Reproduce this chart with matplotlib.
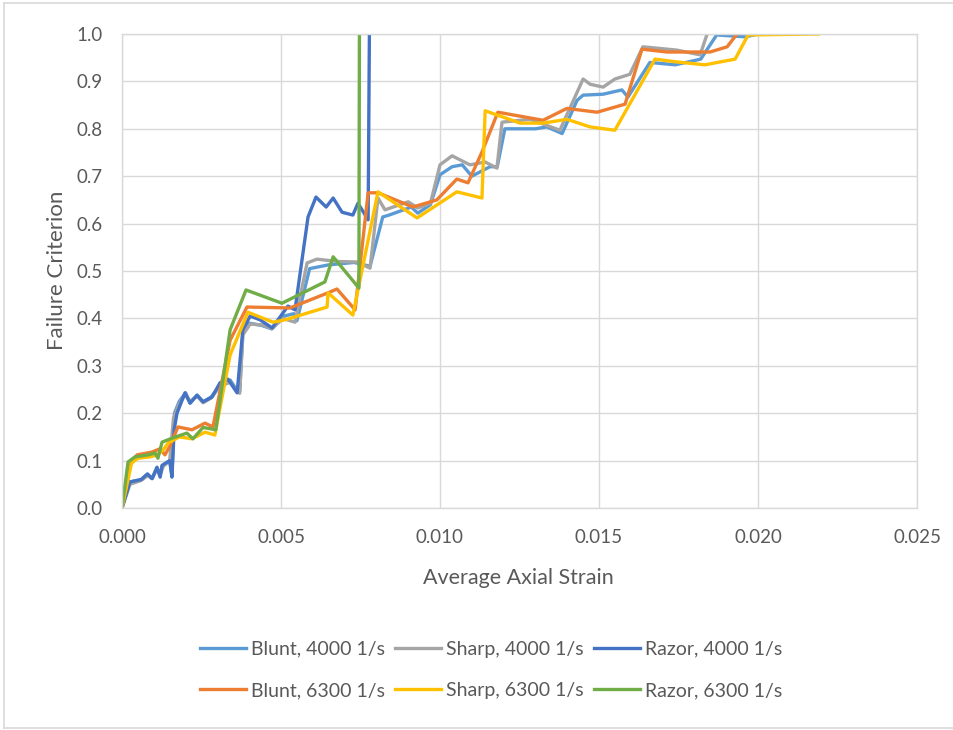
import matplotlib.pyplot as plt
from matplotlib.lines import Line2D
import numpy as np

plt.rcParams['font.family'] = ['Lato', 'DejaVu Sans']

# Blunt, 4000 1/s
blunt4_x = [0, 0.00025, 0.00063, 0.00079, 0.00094, 0.0011, 0.0012, 0.00126, 0.0015, 0.00157, 0.00165,
            0.0018, 0.002, 0.00214, 0.00236, 0.00255, 0.0028, 0.0031, 0.0034, 0.0036, 0.0037, 0.0038,
            0.004, 0.0044, 0.0047, 0.0051, 0.0054, 0.0055, 0.0059, 0.0065, 0.0073, 0.0078, 0.0082,
            0.0084, 0.0091, 0.0093, 0.0097, 0.0100, 0.01038, 0.0107, 0.0110, 0.01157, 0.0118, 0.01204,
            0.0130, 0.01336, 0.01384, 0.01431, 0.0145, 0.01513, 0.01572, 0.01591, 0.0166, 0.0174,
            0.0182, 0.0187, 0.0196, 0.0200]
blunt4_y = [0, 0.055, 0.06, 0.07, 0.062, 0.085, 0.068, 0.088, 0.10, 0.07, 0.2,
            0.225, 0.243, 0.222, 0.238, 0.224, 0.234, 0.26, 0.27, 0.25, 0.245, 0.37,
            0.39, 0.385, 0.378, 0.405, 0.41, 0.395, 0.505, 0.513, 0.518, 0.51, 0.614,
            0.618, 0.635, 0.622, 0.64, 0.703, 0.72, 0.724, 0.70, 0.72, 0.72, 0.80,
            0.80, 0.804, 0.79, 0.86, 0.871, 0.873, 0.882, 0.867, 0.94, 0.935,
            0.947, 0.998, 0.994, 1.0]

# Sharp, 4000 1/s
sharp4_x = [0, 0.00025, 0.0006, 0.0008, 0.00095, 0.0011, 0.0012, 0.0013, 0.0015, 0.00162, 0.0018,
            0.002, 0.00214, 0.00236, 0.00255, 0.0028, 0.0031, 0.0034, 0.0036, 0.0037, 0.0038, 0.00403,
            0.00443, 0.00472, 0.00506, 0.00544, 0.00582, 0.00613, 0.0068, 0.00739, 0.0078, 0.00805,
            0.00827, 0.009, 0.0093, 0.0097, 0.0100, 0.01038, 0.01094, 0.01142, 0.01179, 0.01195,
            0.01283, 0.01377, 0.0145, 0.01472, 0.01513, 0.0155, 0.01597, 0.01638, 0.01745, 0.01818,
            0.0184, 0.0186]
sharp4_y = [0, 0.05, 0.058, 0.068, 0.063, 0.082, 0.07, 0.088, 0.10, 0.19, 0.22,
            0.24, 0.225, 0.236, 0.222, 0.232, 0.258, 0.265, 0.248, 0.242, 0.365, 0.388,
            0.386, 0.378, 0.40, 0.392, 0.517, 0.525, 0.52, 0.519, 0.506, 0.654,
            0.629, 0.646, 0.633, 0.643, 0.724, 0.743, 0.724, 0.73, 0.717, 0.814,
            0.82, 0.797, 0.905, 0.894, 0.888, 0.905, 0.915, 0.973, 0.966, 0.956,
            1.0, 1.03]

# Razor, 4000 1/s
razor4_x = [0, 0.00025, 0.0006, 0.0008, 0.00095, 0.0011, 0.0012, 0.00126, 0.0015, 0.00157, 0.00164,
            0.00173, 0.00198, 0.00214, 0.00236, 0.00255, 0.00283, 0.00308, 0.00333, 0.00362, 0.0038,
            0.00403, 0.00434, 0.00472, 0.00522, 0.00544, 0.00585, 0.0061, 0.00642, 0.00664, 0.00692,
            0.00726, 0.00742, 0.00774, 0.00783]
razor4_y = [0, 0.055, 0.06, 0.072, 0.062, 0.086, 0.065, 0.09, 0.10, 0.065, 0.165,
            0.2, 0.243, 0.221, 0.238, 0.224, 0.234, 0.264, 0.272, 0.243, 0.376,
            0.405, 0.397, 0.38, 0.426, 0.418, 0.614, 0.656, 0.635, 0.654, 0.624,
            0.618, 0.643, 0.608, 1.5]

# Blunt, 6300 1/s
blunt6_x = [0, 0.00025, 0.00047, 0.00094, 0.0012, 0.00135, 0.0015, 0.00176, 0.0022, 0.00261, 0.00286,
            0.0034, 0.00393, 0.00528, 0.00648, 0.00676, 0.00733, 0.00774, 0.00805, 0.00915, 0.0099,
            0.01053, 0.01088, 0.01132, 0.01182, 0.01324, 0.01399, 0.01494, 0.01582, 0.01635, 0.01714,
            0.01849, 0.01903, 0.01934]
blunt6_y = [0, 0.09, 0.112, 0.118, 0.125, 0.112, 0.13, 0.171, 0.165, 0.179, 0.171,
            0.354, 0.424, 0.422, 0.454, 0.462, 0.418, 0.665, 0.665, 0.635, 0.65,
            0.694, 0.686, 0.751, 0.835, 0.818, 0.843, 0.835, 0.852, 0.968, 0.962,
            0.962, 0.973, 1.0]

# Sharp, 6300 1/s
sharp6_x = [0, 0.0003, 0.0005, 0.0009, 0.0011, 0.00129, 0.00145, 0.0018, 0.0022, 0.00261, 0.00292,
            0.0034, 0.00396, 0.00475, 0.00513, 0.00645, 0.00648, 0.00726, 0.00805, 0.00928, 0.01053,
            0.01132, 0.01142, 0.01252, 0.01324, 0.01399, 0.01472, 0.0155, 0.01676, 0.01745, 0.01833,
            0.01928, 0.01969, 0.02189]
sharp6_y = [0, 0.095, 0.105, 0.108, 0.112, 0.122, 0.137, 0.15, 0.146, 0.16, 0.154,
            0.323, 0.413, 0.392, 0.397, 0.424, 0.454, 0.407, 0.667, 0.612, 0.667,
            0.654, 0.838, 0.812, 0.812, 0.82, 0.804, 0.797, 0.947, 0.941, 0.935,
            0.947, 0.998, 1.0]

# Razor, 6300 1/s
razor6_x = [0, 0.00019, 0.00041, 0.00082, 0.00104, 0.00113, 0.00126, 0.0016, 0.00204, 0.00223,
            0.00255, 0.00295, 0.0034, 0.0039, 0.00503, 0.00638, 0.00664, 0.00745, 0.00748]
razor6_y = [0, 0.097, 0.108, 0.112, 0.116, 0.105, 0.139, 0.148, 0.158, 0.146,
            0.17, 0.165, 0.376, 0.46, 0.432, 0.477, 0.53, 0.464, 1.5]

labels = ["Blunt, 4000 1/s", "Sharp, 4000 1/s", "Razor, 4000 1/s",
          "Blunt, 6300 1/s", "Sharp, 6300 1/s", "Razor, 6300 1/s"]
colors = ["#5B9BD5", "#A5A5A5", "#4472C4", "#ED7D31", "#FFC000", "#70AD47"]
series = [(blunt4_x, blunt4_y), (sharp4_x, sharp4_y), (razor4_x, razor4_y),
          (blunt6_x, blunt6_y), (sharp6_x, sharp6_y), (razor6_x, razor6_y)]

txt = "#595959"
grid = "#D9D9D9"

fig = plt.figure(figsize=(9.54, 7.3), dpi=100)
ax = fig.add_axes([122/954, 1-508/730, (917-122)/954, (508-34)/730])

handles = []
for (xs, ys), c, lab in zip(series, colors, labels):
    h, = ax.plot(xs, ys, color=c, lw=2.4, label=lab, solid_joinstyle='round')
    handles.append(h)

ax.set_xlim(0, 0.025)
ax.set_ylim(0, 1.0)
ax.set_xticks(np.arange(0, 0.0251, 0.005))
ax.set_yticks(np.arange(0, 1.01, 0.1))
ax.set_xticklabels([f"{v:.3f}" for v in np.arange(0, 0.0251, 0.005)])
ax.set_yticklabels([f"{v:.1f}" for v in np.arange(0, 1.01, 0.1)])
ax.grid(True, color=grid, lw=1.0)
ax.set_axisbelow(True)
for s in ax.spines.values():
    s.set_color(grid)
    s.set_linewidth(1.0)
ax.tick_params(axis='both', length=0, labelsize=13.5, colors=txt)
ax.tick_params(axis='y', pad=14)
ax.tick_params(axis='x', pad=15)

fig.text(57/954, 1-270/730, "Failure Criterion", rotation=90, ha='center', va='center',
         fontsize=16, color=txt)
fig.text(518/954, 1-578/730, "Average Axial Strain", ha='center', va='center',
         fontsize=15.5, color=txt)

order = [0, 3, 1, 4, 2, 5]
fig.legend([handles[i] for i in order], [labels[i] for i in order], ncol=3,
           loc='center', bbox_to_anchor=(491/954, 1-670/730), frameon=False,
           fontsize=14, labelcolor=txt, handlelength=2.4, handletextpad=0.25,
           columnspacing=0.5, labelspacing=1.25)

# chart area border
fig.add_artist(Line2D([4/954, 4/954], [1-728/730, 1-3/730], color=grid, lw=1.2))
fig.add_artist(Line2D([4/954, 1], [1-3/730, 1-3/730], color=grid, lw=1.2))
fig.add_artist(Line2D([4/954, 1], [1-728/730, 1-728/730], color=grid, lw=1.2))

fig.savefig("out.png", dpi=100)
